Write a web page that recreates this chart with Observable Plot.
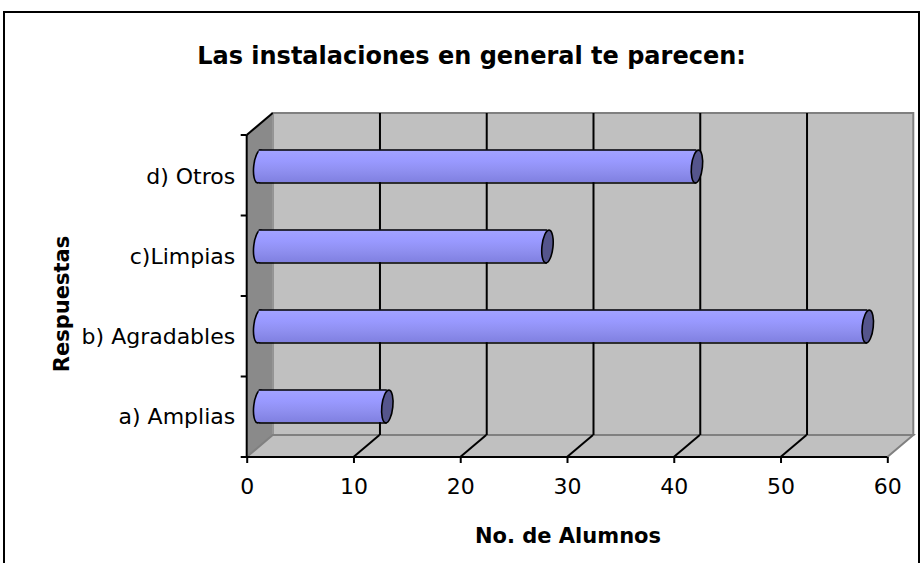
<!DOCTYPE html>
<html>
<head>
<meta charset="utf-8">
<script src="https://cdn.jsdelivr.net/npm/d3@7"></script>
<script src="https://cdn.jsdelivr.net/npm/@observablehq/plot@0.6"></script>
<style>
html, body { margin: 0; padding: 0; background: #fff; overflow: hidden; }
#wrap { position: relative; width: 921px; height: 563px; }
#wrap svg { position: absolute; left: 0; top: 0; }
#border { position: absolute; left: 3px; top: 11px; width: 917px; height: 620px; box-sizing: border-box; border: 2px solid #000; pointer-events: none; }
</style>
</head>
<body>
<div id="wrap"></div>
<script>
// ---- data ----
const categories = ["a) Amplias", "b) Agradables", "c)Limpias", "d) Otros"];
const values = [12, 57, 27, 41];
const xTicks = [0, 10, 20, 30, 40, 50, 60];
const title = "Las instalaciones en general te parecen:";
const xLabel = "No. de Alumnos";
const yLabel = "Respuestas";

const data = categories.map((c, i) => ({cat: c, value: values[i]}));

// ---- 3D look ----
const DX = 26, DY = -22;      // depth of the chart box
const BDX = 12, BDY = -10;    // depth position of the bars
const BR = 16.5;              // bar radius (half thickness)

const ellipse = {
  draw(ctx, size) {
    const ry = Math.sqrt(size / Math.PI), rx = ry / 3, k = 0.5523;
    ctx.moveTo(rx, 0);
    ctx.bezierCurveTo(rx, k * ry, k * rx, ry, 0, ry);
    ctx.bezierCurveTo(-k * rx, ry, -rx, k * ry, -rx, 0);
    ctx.bezierCurveTo(-rx, -k * ry, -k * rx, -ry, 0, -ry);
    ctx.bezierCurveTo(k * rx, -ry, rx, -k * ry, rx, 0);
    ctx.closePath();
  }
};

function defs() {
  const d = d3.create("svg:defs");
  d.html(`<linearGradient id="barGrad" x1="0" y1="0" x2="0" y2="1">
    <stop offset="0" stop-color="#a3a3ff"/>
    <stop offset="0.35" stop-color="#9999ff"/>
    <stop offset="0.65" stop-color="#8f8ff0"/>
    <stop offset="1" stop-color="#8080e0"/>
  </linearGradient>`);
  return d.node();
}

function walls(index, scales, values, dims) {
  const x = scales.x;
  const yT = dims.marginTop, yB = dims.height - dims.marginBottom;
  const xL = x(xTicks[0]), xR = x(xTicks[xTicks.length - 1]);
  const g = d3.create("svg:g");
  // back wall
  g.append("rect").attr("x", xL + DX).attr("y", yT + DY).attr("width", xR - xL).attr("height", yB - yT)
    .attr("fill", "#c0c0c0").attr("stroke", "#808080").attr("stroke-width", 2);
  // side wall
  g.append("path").attr("d", `M${xL},${yT}L${xL},${yB}L${xL + DX},${yB + DY}L${xL + DX},${yT + DY}Z`)
    .attr("fill", "#8a8a8a").attr("stroke", "#9a9a9a").attr("stroke-width", 1);
  // floor
  g.append("path").attr("d", `M${xL},${yB}L${xR},${yB}L${xR + DX},${yB + DY}L${xL + DX},${yB + DY}Z`)
    .attr("fill", "#c0c0c0").attr("stroke", "#808080").attr("stroke-width", 2);
  return g.node();
}

function frontLines(index, scales, values, dims) {
  const x = scales.x;
  const yT = dims.marginTop, yB = dims.height - dims.marginBottom;
  const xL = x(xTicks[0]), xR = x(xTicks[xTicks.length - 1]);
  const g = d3.create("svg:g").attr("stroke", "#000").attr("fill", "none");
  // floor diagonals
  for (const t of xTicks.slice(1, -1)) {
    g.append("line").attr("x1", x(t)).attr("y1", yB).attr("x2", x(t) + DX).attr("y2", yB + DY).attr("stroke-width", 2);
  }
  // top-left diagonal
  g.append("line").attr("x1", xL).attr("y1", yT).attr("x2", xL + DX).attr("y2", yT + DY).attr("stroke-width", 2);
  // front axes lines
  g.append("line").attr("x1", xL).attr("y1", yT).attr("x2", xL).attr("y2", yB).attr("stroke-width", 2);
  g.append("line").attr("x1", xL).attr("y1", yB).attr("x2", xR).attr("y2", yB).attr("stroke-width", 2);
  // y ticks at category boundaries
  const n = categories.length;
  for (let k = 0; k <= n; k++) {
    const yy = yT + k * (yB - yT) / n;
    g.append("line").attr("x1", xL - 6).attr("y1", yy).attr("x2", xL).attr("y2", yy).attr("stroke-width", 2);
  }
  return g.node();
}

const chart = Plot.plot({
  width: 921,
  height: 563,
  marginLeft: 246.7,
  marginRight: 33.7,
  marginTop: 135,
  marginBottom: 106,
  style: {fontFamily: "'DejaVu Sans', sans-serif", fontSize: "22px", background: "transparent", overflow: "visible", color: "#000"},
  x: {domain: [xTicks[0], xTicks[xTicks.length - 1]]},
  y: {type: "band", domain: categories.slice().reverse(), padding: 0},
  marks: [
    defs,
    walls,
    Plot.ruleX(xTicks.slice(1, -1), {dx: DX, dy: DY, stroke: "#000", strokeWidth: 2}),
    frontLines,
    // bars (cylinders)
    Plot.dot(data, {x: d => 0, y: "cat", r: BR, symbol: ellipse, rotate: 6, dx: BDX, dy: BDY,
      fill: "url(#barGrad)", stroke: "#000", strokeWidth: 1.6}),
    Plot.barX(data, {x: "value", y: "cat", dx: BDX, dy: BDY, insetTop: 40.25 - BR, insetBottom: 40.25 - BR,
      fill: "url(#barGrad)"}),
    Plot.ruleY(data, {y: "cat", x1: d => 0, x2: "value", dx: BDX, dy: BDY - BR, stroke: "#000", strokeWidth: 1.6}),
    Plot.ruleY(data, {y: "cat", x1: d => 0, x2: "value", dx: BDX, dy: BDY + BR, stroke: "#000", strokeWidth: 1.6}),
    Plot.dot(data, {x: "value", y: "cat", r: BR, symbol: ellipse, rotate: 6, dx: BDX, dy: BDY,
      fill: "#55558c", stroke: "#000", strokeWidth: 1.6}),
    // axes
    Plot.axisX(xTicks, {tickSize: 6, tickPadding: 15, fontSize: 22, stroke: "#000", strokeWidth: 2, label: null}),
    Plot.axisY({tickSize: 0, tickPadding: 12, fontSize: 22, label: null}),
    // titles
    Plot.text([title], {frameAnchor: "top", dx: -96, dy: -89, fontSize: 24, fontWeight: "bold"}),
    Plot.text([xLabel], {frameAnchor: "bottom", dx: 0.5, dy: 85, fontSize: 21, fontWeight: "bold"}),
    Plot.text([yLabel], {frameAnchor: "left", textAnchor: "middle", rotate: -90, dx: -184.7, dy: 7.5, fontSize: 21, fontWeight: "bold"})
  ]
});

const wrap = document.getElementById("wrap");
wrap.appendChild(chart);
const border = document.createElement("div");
border.id = "border";
wrap.appendChild(border);
</script>
</body>
</html>
